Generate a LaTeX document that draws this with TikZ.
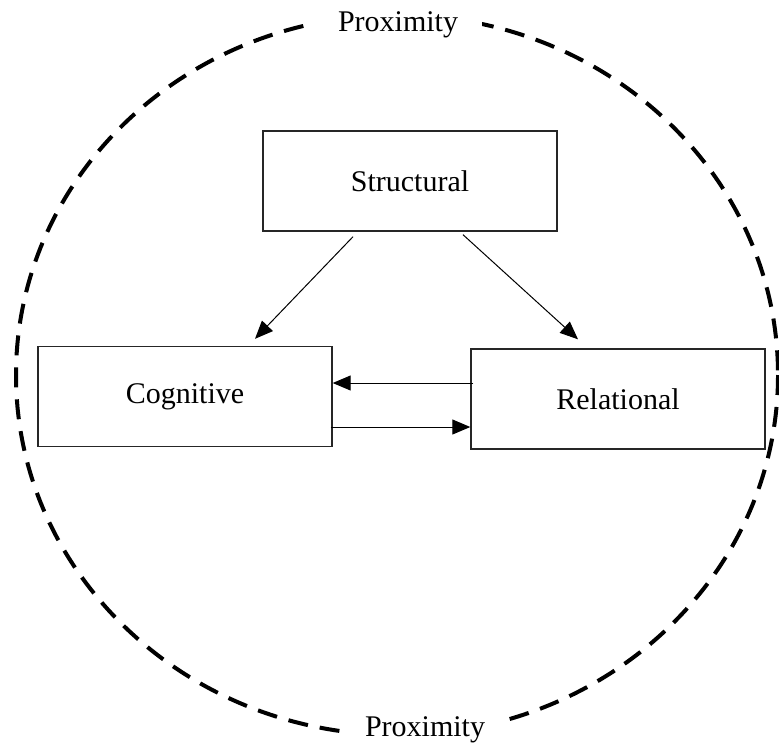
\documentclass[tikz,border=0pt]{standalone}
\usepackage{fontspec}
\setmainfont{Liberation Serif}
\usepackage{tikz}
\usetikzlibrary{arrows.meta,positioning,calc}

\begin{document}
\begin{tikzpicture}[
      x=0.5pt,y=-0.5pt,
      font=\fontsize{15}{18}\selectfont,
      box/.style={draw=black!85,line width=0.7pt,minimum width=147pt,minimum height=50pt,align=center,fill=white},
      arr/.style={-{Triangle[length=9pt,width=7.5pt]},line width=0.5pt,black},
      ring/.style={draw=black,line width=2pt,dash pattern=on 10pt off 6pt},
      lbl/.style={fill=white,inner xsep=12pt,inner ysep=2pt}
    ]
    \useasboundingbox (0,0) rectangle (779,744);
    \draw[ring] (397,375) ellipse [x radius=381,y radius=360];
    \node[lbl] (top) at (398,25) {Proximity};
    \node[lbl] (bot) at (425,730) {Proximity};

    \node[box] (str) at (410,181) {Structural};
    \node[box] (cog) at (185,396.5) {Cognitive};
    \node[box] (rel) at (618,399) {Relational};

    \draw[arr] ([xshift=-28.5pt,yshift=-2.5pt]str.south) -- ([xshift=35pt,yshift=3.5pt]cog.north);
    \draw[arr] ([xshift=26.5pt,yshift=-1.5pt]str.south) -- ([xshift=-20pt,yshift=4.5pt]rel.north);
    \coordinate (r1) at ([xshift=1.5pt,yshift=8pt]rel.west);
    \coordinate (c1) at ([xshift=-1pt,yshift=-15.25pt]cog.east);
    \draw[arr] (r1) -- (r1 -| cog.east);
    \draw[arr] (c1) -- (c1 -| rel.west);
  \end{tikzpicture}
\end{document}
